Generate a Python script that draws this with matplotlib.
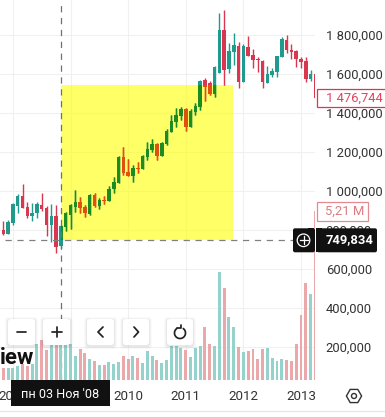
import numpy as np
import matplotlib
matplotlib.use("Agg")
import matplotlib.pyplot as plt
from matplotlib.patches import Rectangle, FancyBboxPatch, Circle, RegularPolygon, Arc

plt.rcParams['font.family'] = ['Roboto', 'DejaVu Sans']

# Month index, 0 = January 2008
months = list(range(-2, 64))
opens = [800, 779, 836, 923, 974, 918, 872, 887, 928, 913, 826, 872, 718, 815, 877, 918, 944, 918, 882, 980, 923, 954,
         949, 1010, 1041, 1174, 1097, 1077, 1118, 1113, 1174, 1210, 1241, 1180, 1241, 1303, 1354, 1385, 1421, 1328,
         1405, 1431, 1569, 1554, 1497, 1605, 1826, 1626, 1713, 1744, 1559, 1739, 1697, 1677, 1667, 1554, 1595, 1610,
         1687, 1774, 1723, 1718, 1677, 1667, 1574, 1600]
highs = [846, 851, 939, 985, 1036, 944, 939, 944, 990, 923, 933, 928, 826, 892, 933, 1005, 970, 928, 985, 990, 964, 974,
         1026, 1072, 1180, 1225, 1164, 1133, 1149, 1185, 1251, 1267, 1246, 1251, 1318, 1390, 1426, 1431, 1426, 1421,
         1451, 1569, 1580, 1564, 1641, 1913, 1928, 1759, 1810, 1764, 1754, 1795, 1728, 1687, 1672, 1641, 1631, 1692,
         1790, 1800, 1754, 1723, 1687, 1687, 1621, 1600]
lows = [774, 779, 826, 887, 913, 862, 846, 862, 897, 769, 738, 682, 708, 795, 805, 892, 887, 867, 877, 918, 908, 933,
        949, 990, 1041, 1082, 1077, 1046, 1092, 1113, 1159, 1200, 1159, 1180, 1236, 1303, 1328, 1364, 1308, 1328,
        1390, 1415, 1462, 1492, 1482, 1605, 1544, 1605, 1646, 1528, 1559, 1692, 1631, 1610, 1528, 1554, 1585, 1585,
        1687, 1708, 1677, 1636, 1631, 1559, 1564, 1477]
closes = [779, 841, 933, 974, 913, 872, 887, 933, 908, 826, 872, 713, 821, 887, 928, 944, 913, 887, 980, 923, 954, 949,
          1010, 1046, 1174, 1092, 1077, 1118, 1113, 1180, 1215, 1241, 1180, 1246, 1308, 1359, 1390, 1421, 1328, 1410,
          1436, 1564, 1533, 1497, 1636, 1826, 1621, 1718, 1749, 1559, 1744, 1692, 1672, 1672, 1559, 1600, 1615, 1692,
          1780, 1723, 1713, 1677, 1662, 1574, 1600, 1477]
volumes = [.37, .37, .37, .43, .49, .43, .49, 1.11, 1.23, .93, 1.08, 1.08, 1.08, 1.08, 1.11, .74, .96, .83, .65, .59, .46, .46,
           .56, .49, .56, .74, .65, .74, .68, .52, .90, .74, .62, .52, .62, 1.05, 1.05, .99, .93, .71,
           .99, 1.05, 1.64, 1.11, 1.05, 3.33, 2.84, 1.94, 1.64, 1.02, .86, .90, .96, .65, .96, .99, .68, .59, .65, .62, .59,
           1.11, 2.01, 2.99, 2.65, 5.21]

price_ticks = [200, 400, 600, 800, 1000, 1200, 1400, 1600, 1800]
price_labels = ['200,000', '400,000', '600,000', '800,000', '1 000,000', '1 200,000', '1 400,000', '1 600,000', '1 800,000']
year_ticks = [0, 12, 24, 36, 48, 60]
year_labels = ['2008', '2009', '2010', '2011', '2012', '2013']

cross_month = 10
cross_price = 749.834
box_end_month = 45.94
box_top_price = 1544
last_price = 1476.744
last_price_text = '1 476,744'
last_volume_text = '5,21 M'
cross_price_text = '749,834'
cross_date_text = 'пн 03 Ноя \'08'

TEAL, RED = '#1f9a8c', '#d9364f'
TEAL_BOX, RED_BOX = '#1c8c20', '#e0500f'
TEAL_VOL, RED_VOL = '#96d2cc', '#eba8ab'
GRID = '#f0f0f0'
TXT = '#333333'

W, H = 385, 417
PLOT_R, PLOT_B = 315.3, 380
fig = plt.figure(figsize=(W / 100, H / 100), dpi=100, facecolor='white')
pos = [0, (H - PLOT_B) / H, PLOT_R / W, PLOT_B / H]
ax = fig.add_axes(pos, facecolor='white')
ax.set_xlim(-2.70, 62.98)
ax.set_ylim(30.9, 1979.5)
for s in ax.spines.values():
    s.set_visible(False)
ax.yaxis.tick_right()
ax.set_yticks(price_ticks, price_labels)
ax.set_xticks(year_ticks, year_labels)
ax.tick_params(axis='y', length=0, pad=7.5, labelsize=9.4, labelcolor=TXT)
ax.tick_params(axis='x', length=0, pad=7, labelsize=9.6, labelcolor=TXT)
ax.grid(True, color=GRID, lw=0.8, zorder=0)
ax.set_axisbelow(True)

box = Rectangle((cross_month, cross_price), box_end_month - cross_month, box_top_price - cross_price,
                facecolor='#ffff00', alpha=0.6, edgecolor='none', zorder=1)
ax.add_patch(box)

m = np.array(months)
o, h, l, c = map(np.array, (opens, highs, lows, closes))
up = c >= o


def candles(colu, cold, zorder, clip=None):
    cols = [colu if u else cold for u in up]
    w = ax.vlines(m, l, h, colors=cols, lw=1.0, zorder=zorder)
    b = ax.bar(m, np.abs(c - o) + 2, bottom=np.minimum(o, c) - 1, width=0.72, color=cols, linewidth=0, zorder=zorder)
    if clip is not None:
        w.set_clip_path(clip)
        for p in b:
            p.set_clip_path(clip)


candles(TEAL, RED, 2)
clip_rect = Rectangle((cross_month, cross_price), box_end_month - cross_month, box_top_price - cross_price,
                      transform=ax.transData)
candles(TEAL_BOX, RED_BOX, 3, clip_rect)

ax.axhline(cross_price, color='#808080', lw=0.9, dashes=(5, 4.5), zorder=4, xmin=0.015)
ax.axvline(cross_month, color='#707070', lw=0.9, dashes=(5, 4.5), zorder=4)

vol = fig.add_axes(pos, sharex=ax, facecolor='none')
vol.set_ylim(0, 380 / 32.4)
vol.bar(m, volumes, width=0.62, color=[TEAL_VOL if u else RED_VOL for u in up], linewidth=0)
vol.axis('off')

# interface overlay in pixel coordinates
ov = fig.add_axes([0, 0, 1, 1], facecolor='none')
ov.set_xlim(0, W)
ov.set_ylim(H, 0)
ov.axis('off')


def py(price):
    return ov.transData.inverted().transform(ax.transData.transform((0, price)))[1]


def button(x0, x1, y0, y1):
    for grow, a in ((3, .02), (2, .03), (1, .04)):
        ov.add_patch(FancyBboxPatch((x0 - grow + 3, y0 - grow + 4), x1 - x0 + 2 * grow - 6, y1 - y0 + 2 * grow - 6,
                                    boxstyle='round,pad=3', fc='black', ec='none', alpha=a, zorder=5))
    ov.add_patch(FancyBboxPatch((x0 + 3, y0 + 3), x1 - x0 - 6, y1 - y0 - 6, boxstyle='round,pad=3',
                                fc='white', ec='none', zorder=6))


ov.text(-0.5, 364, 'iew', fontsize=16, fontweight='bold', color='#111111', ha='left', va='baseline', zorder=5)

for x0, x1 in ((8, 35), (43, 70), (87, 114), (123, 149), (167, 193)):
    button(x0, x1, 319, 345)
glyph = dict(color='#222222', lw=1.25, zorder=7, solid_capstyle='round', solid_joinstyle='round')
ov.plot([17, 26], [332, 332], **glyph)
ov.plot([52, 62], [332, 332], **glyph)
ov.plot([57, 57], [327, 337], **glyph)
ov.plot([103, 98, 103], [327, 332, 337], **glyph)
ov.plot([134, 138.5, 134], [327, 332, 337], **glyph)
ov.add_patch(Arc((180, 333), 11, 11, theta1=-60, theta2=240, color='#222222', lw=1.25, zorder=7))
ov.plot([177, 180.5, 180.5], [327.5, 327.5, 324.5], **glyph)

# date tag
ov.add_patch(Rectangle((11, 380), 99, 26, fc='#111111', ec='none', zorder=8))
ov.text(60.5, 395, cross_date_text, color='white', fontsize=9.1, ha='center', va='center', zorder=9)

# bottom rule and settings icon
ov.plot([0, W], [410.5, 410.5], color='#e6e6e6', lw=0.9, zorder=2)
ov.add_patch(RegularPolygon((354, 396), 6, radius=7.6, orientation=np.pi / 2, fc='none', ec='#333333', lw=1.0, zorder=7))
ov.add_patch(Circle((354, 396), 2.5, fc='none', ec='#333333', lw=1.0, zorder=7))

# price tags
ylp = py(last_price)
ov.add_patch(Rectangle((316.5, ylp - 9), 69, 18, fc='white', ec=RED, lw=0.9, zorder=8))
ov.text(326, ylp, last_price_text, color='#e0455e', fontsize=9.4, ha='left', va='center', zorder=9)

vy = vol.transData.transform((0, volumes[-1]))[1]
vy = ov.transData.inverted().transform((0, vy))[1]
ov.add_patch(Rectangle((316.5, vy - 9), 51.5, 18.5, fc='white', ec='#e48a90', lw=0.9, zorder=8))
ov.text(325, vy, last_volume_text, color='#df7a80', fontsize=9.4, ha='left', va='center', zorder=9)

ycp = py(cross_price)
ov.add_patch(FancyBboxPatch((319, ycp - 9.5), 56, 20, boxstyle='round,pad=2', fc='#111111', ec='none', zorder=8))
ov.add_patch(Rectangle((316, ycp - 11.5), 6, 24, fc='#111111', ec='none', zorder=8))
ov.text(326, ycp + 0.3, cross_price_text, color='white', fontsize=9.4, fontweight='bold', ha='left', va='center', zorder=9)
ov.add_patch(FancyBboxPatch((295, ycp - 9.5), 18, 20, boxstyle='round,pad=2', fc='#111111', ec='none', zorder=8))
ov.add_patch(Rectangle((308, ycp - 11.5), 6, 24, fc='#111111', ec='none', zorder=8))
ov.add_patch(Circle((303.5, ycp + 0.5), 6.3, fc='none', ec='white', lw=0.9, zorder=9))
ov.plot([299.5, 307.5], [ycp + 0.5, ycp + 0.5], color='white', lw=0.9, zorder=9)
ov.plot([303.5, 303.5], [ycp - 3.5, ycp + 4.5], color='white', lw=0.9, zorder=9)

fig.savefig('out.png', dpi=100, facecolor='white')
